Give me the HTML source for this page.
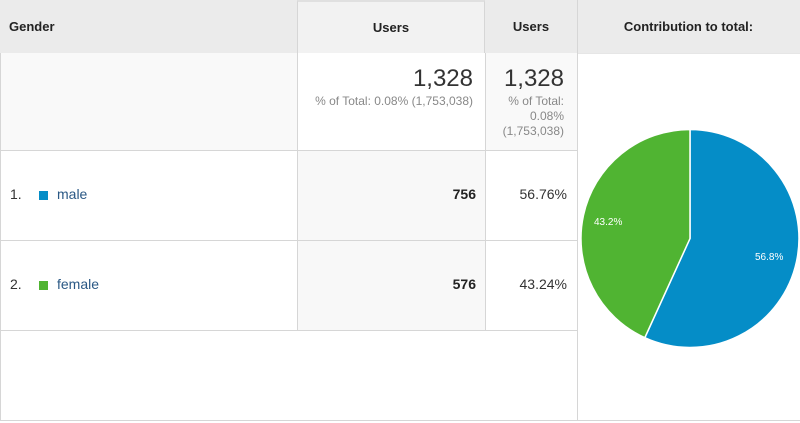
<!DOCTYPE html>
<html><head><meta charset="utf-8"><style>
body{margin:0;width:800px;height:423px;background:#fff;font-family:"Liberation Sans",Arial,sans-serif;position:relative;overflow:hidden}
div{position:absolute;box-sizing:border-box}
.h{top:0;height:53px;background:#ebebeb;font-weight:bold;font-size:13px;color:#222;line-height:53px}
.vl{width:1px;background:#d6d6d6}
.hl{height:1px;background:#d6d6d6}
</style></head><body>
<div class="h" style="left:0;width:297px;padding-left:9px">Gender</div>
<div class="h" style="left:297px;width:188px;text-align:center;background:#f2f2f2;border-top:2px solid #e0e0e0;border-left:1px solid #d6d6d6;border-right:1px solid #d6d6d6;line-height:51px">Users</div>
<div class="h" style="left:485px;width:92px;text-align:center">Users</div>
<div class="h" style="left:577px;width:223px;text-align:center">Contribution to total:</div>

<div style="left:0;top:53px;width:297px;height:97px;background:#f9f9f9"></div>
<div style="left:297px;top:53px;width:188px;height:97px;background:#fff;text-align:right;padding-right:12px">
<div style="right:12px;top:12px;font-size:24px;color:#333">1,328</div>
<div style="right:12px;top:41px;font-size:12px;color:#888;white-space:nowrap">% of Total: 0.08% (1,753,038)</div></div>
<div style="left:485px;top:53px;width:92px;height:97px;background:#f9f9f9">
<div style="right:13px;top:12px;font-size:24px;color:#333">1,328</div>
<div style="right:13px;top:41px;font-size:12px;color:#888;text-align:right;line-height:15px">% of Total:<br>0.08%<br>(1,753,038)</div></div>

<div style="left:297px;top:150px;width:188px;height:180px;background:#f8f8f8"></div>

<div style="left:10px;top:186px;font-size:14px;color:#333">1.</div>
<div style="left:39px;top:191px;width:9px;height:9px;background:#058dc7"></div>
<div style="left:57px;top:186px;font-size:14px;color:#2a5885">male</div>
<div style="right:324px;top:186px;font-size:14px;font-weight:bold;color:#222">756</div>
<div style="right:233px;top:186px;font-size:14px;color:#333">56.76%</div>

<div style="left:10px;top:276px;font-size:14px;color:#333">2.</div>
<div style="left:39px;top:281px;width:9px;height:9px;background:#50b432"></div>
<div style="left:57px;top:276px;font-size:14px;color:#2a5885">female</div>
<div style="right:324px;top:276px;font-size:14px;font-weight:bold;color:#222">576</div>
<div style="right:233px;top:276px;font-size:14px;color:#333">43.24%</div>

<div class="hl" style="left:0;top:150px;width:577px"></div>
<div class="hl" style="left:0;top:240px;width:577px"></div>
<div class="hl" style="left:0;top:330px;width:577px"></div>
<div class="hl" style="left:0;top:420px;width:800px"></div>
<div class="hl" style="left:577px;top:53px;width:223px;background:#e6e6e6"></div>
<div class="vl" style="left:0;top:53px;height:368px"></div>
<div class="vl" style="left:297px;top:53px;height:277px"></div>
<div class="vl" style="left:485px;top:53px;height:277px"></div>
<div class="vl" style="left:577px;top:0;height:421px"></div>

<svg style="position:absolute;left:0;top:0" width="800" height="423">
<path d="M690,238.5 L690,129.5 A109,109 0 1 1 644.8,337.7 Z" fill="#058dc7" stroke="#fff" stroke-width="1.5"/>
<path d="M690,238.5 L644.8,337.7 A109,109 0 0 1 690,129.5 Z" fill="#50b432" stroke="#fff" stroke-width="1.5"/>
<text x="755" y="260" font-size="10" fill="#fff" font-family="Liberation Sans,Arial,sans-serif">56.8%</text>
<text x="594" y="225" font-size="10" fill="#fff" font-family="Liberation Sans,Arial,sans-serif">43.2%</text>
</svg>
</body></html>
